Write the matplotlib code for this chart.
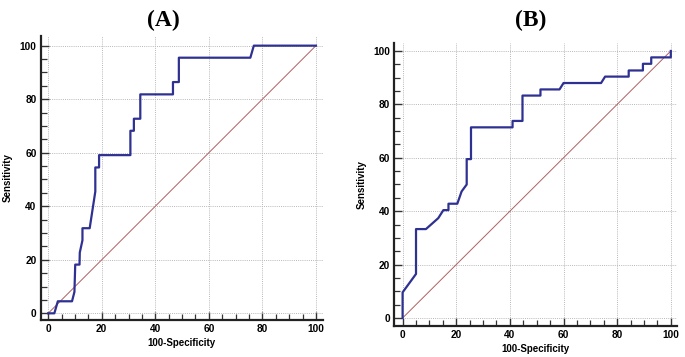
import matplotlib
matplotlib.use("Agg")
import matplotlib.pyplot as plt
from matplotlib.ticker import MultipleLocator

# ---- data ----
fpr_a = [0, 2.3, 3.6, 8.9, 9.8, 10.1, 11.7, 11.8, 12.8, 12.8, 15.5, 17.6, 17.6, 19.0, 19.0,
         30.7, 30.7, 32.0, 32.0, 34.4, 34.4, 46.6, 46.6, 48.8, 48.8, 75.5, 76.8, 100]
tpr_a = [0, 0, 4.5, 4.5, 8.0, 18.2, 18.2, 22.7, 27.3, 31.8, 31.8, 45.5, 54.5, 54.5, 59.1,
         59.1, 68.2, 68.2, 72.7, 72.7, 81.8, 81.8, 86.4, 86.4, 95.5, 95.5, 100, 100]

fpr_b = [0, 0, 5.0, 5.0, 8.7, 13.3, 15.2, 17.1, 17.1, 20.4, 22.0, 23.9, 23.9, 25.5, 25.5,
         41.0, 41.0, 44.7, 44.7, 51.4, 51.4, 58.5, 60.0, 74.0, 75.5, 84.3, 84.3, 89.6, 89.6,
         92.7, 92.7, 100, 100]
tpr_b = [0, 9.6, 16.5, 33.3, 33.3, 37.4, 40.4, 40.4, 42.8, 42.8, 47.4, 50.0, 59.5, 59.5, 71.4,
         71.4, 73.8, 73.8, 83.3, 83.3, 85.6, 85.6, 88.0, 88.0, 90.4, 90.4, 92.7, 92.7, 95.2,
         95.2, 97.6, 97.6, 100]

diag = [0, 100]
ticks = [0, 20, 40, 60, 80, 100]
titles = ["(A)", "(B)"]
xlabel = "100-Specificity"
ylabel = "Sensitivity"

fig = plt.figure(figsize=(6.85, 3.57), dpi=100)
plt.rcParams['font.family'] = ['Liberation Sans', 'DejaVu Sans']

rects = [[0.0594, 0.1036, 0.412, 0.7955], [0.5756, 0.0868, 0.4123, 0.7936]]
lims = [((-2.8, 102.6), (-2.5, 103.6)), ((-3.1, 102.2), (-3.0, 103.1))]
curves = [(fpr_a, tpr_a), (fpr_b, tpr_b)]
title_pos = [(163 / 685, 1 - 20 / 357), (531 / 685, 1 - 20 / 357)]

for i in range(2):
    ax = fig.add_axes(rects[i])
    ax.set_xlim(*lims[i][0])
    ax.set_ylim(*lims[i][1])
    for s in ['top', 'right']:
        ax.spines[s].set_visible(False)
    for s in ['left', 'bottom']:
        ax.spines[s].set_linewidth(1.6)
        ax.spines[s].set_color('#222222')
    ax.set_xticks(ticks)
    ax.set_yticks(ticks)
    ax.xaxis.set_minor_locator(MultipleLocator(5))
    ax.yaxis.set_minor_locator(MultipleLocator(5))
    ax.tick_params(which='major', direction='in', length=6, width=1.0, color='#333333',
                   labelsize=7.3, pad=3)
    ax.tick_params(which='minor', direction='in', length=4, width=0.9, color='#333333')
    for lab in ax.get_xticklabels() + ax.get_yticklabels():
        lab.set_fontweight('bold')
    ax.grid(True, which='major', color='#b8b8b8', linestyle=(0, (1, 1.2)), linewidth=0.7)
    ax.set_axisbelow(True)
    ax.plot(diag, diag, color='#b06060', linewidth=0.7)
    ax.plot(curves[i][0], curves[i][1], color='#2e3192', linewidth=1.6)
    ax.set_xlabel(xlabel, fontsize=7, fontweight='bold', labelpad=3)
    ax.set_ylabel(ylabel, fontsize=7, fontweight='bold', labelpad=5)
    fig.text(title_pos[i][0], title_pos[i][1], titles[i], ha='center', va='center',
             fontsize=17, fontweight='bold', family=['Liberation Serif', 'DejaVu Serif'])

fig.savefig("out.png", dpi=100)
